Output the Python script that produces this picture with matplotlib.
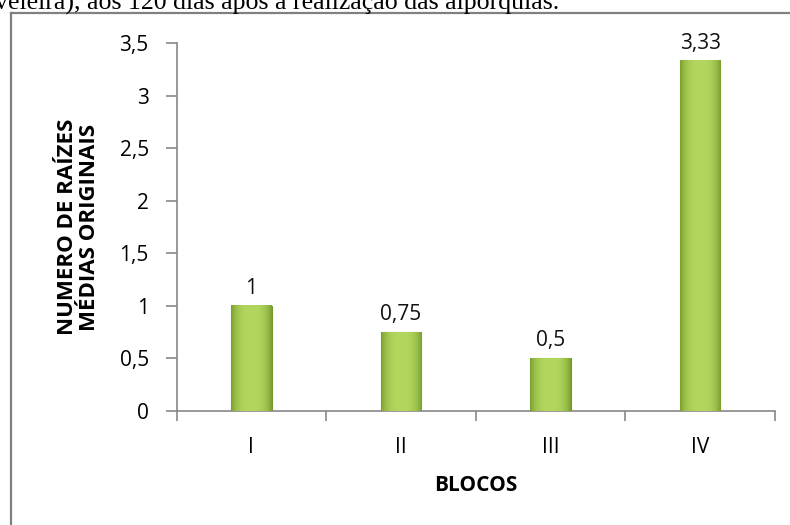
import numpy as np
import matplotlib.pyplot as plt
from matplotlib.lines import Line2D

blocos = ['I', 'II', 'III', 'IV']
medias = [1, 0.75, 0.5, 3.33]
rotulos = ['1', '0,75', '0,5', '3,33']
yticks = [0, 0.5, 1, 1.5, 2, 2.5, 3, 3.5]
ytick_labels = ['0', '0,5', '1', '1,5', '2', '2,5', '3', '3,5']

plt.rcParams['font.family'] = ['Open Sans', 'DejaVu Sans']

fig = plt.figure(figsize=(7.9, 5.25), dpi=100)
ax = fig.add_axes([0.2235, 0.2171, 0.7575, 0.7010])

x = np.arange(len(blocos))
w = 0.27
bars = ax.bar(x, medias, width=w, color='#9cc548', edgecolor='#6f9a2a', linewidth=0.8, zorder=2)

# horizontal gradient on each bar to mimic the bevelled look
grad = np.linspace(0, 1, 64)
prof = 1 - (2 * np.abs(grad - 0.5)) ** 3
cols = np.array([0x7a, 0xa0, 0x30]) / 255
colc = np.array([0xb2, 0xd6, 0x5e]) / 255
img = (cols[None, :] + (colc - cols)[None, :] * prof[:, None])[None, :, :]
for b in bars:
    x0 = b.get_x()
    ax.imshow(img, extent=(x0, x0 + b.get_width(), 0, b.get_height()),
              aspect='auto', zorder=3, interpolation='bilinear')

for xi, v, t in zip(x, medias, rotulos):
    ax.text(xi, v + 0.07, t, ha='center', va='bottom', fontsize=15, color='#111111')

ax.set_xlim(-0.5, len(blocos) - 0.5)
ax.set_ylim(0, 3.5)
ax.set_yticks(yticks)
ax.set_yticklabels(ytick_labels, fontsize=15)
ax.set_xticks(x)
ax.set_xticklabels(blocos, fontsize=15)
ax.set_xticks(np.arange(len(blocos) + 1) - 0.5, minor=True)
ax.tick_params(axis='x', which='major', length=0, pad=19)
ax.tick_params(axis='x', which='minor', length=7, color='#888888', width=1.2)
ax.tick_params(axis='y', length=8, color='#888888', width=1.2, pad=12)

for s in ['top', 'right']:
    ax.spines[s].set_visible(False)
for s in ['left', 'bottom']:
    ax.spines[s].set_color('#888888')
    ax.spines[s].set_linewidth(1.2)

ax.set_xlabel('BLOCOS', fontsize=15, fontweight='bold', labelpad=12)
ax.set_ylabel('NUMERO DE RAÍZES\nMÉDIAS ORIGINAIS', fontsize=16, fontweight='bold',
              labelpad=14, linespacing=1.05)

# outer chart border, partially cut off
fig.add_artist(Line2D([11 / 790, 11 / 790], [0, 1 - 13 / 525], color='#808080', lw=1.6))
fig.add_artist(Line2D([11 / 790, 1], [1 - 13 / 525, 1 - 13 / 525], color='#808080', lw=1.6))

# cropped caption above the chart
fig.text(-0.006, 1 - 10 / 525, 'veleira), aos 120 dias após a realização das alporquias.',
         family=['Liberation Serif', 'DejaVu Serif'], fontsize=18.6, va='baseline', ha='left')

fig.savefig('out.png', dpi=100)
